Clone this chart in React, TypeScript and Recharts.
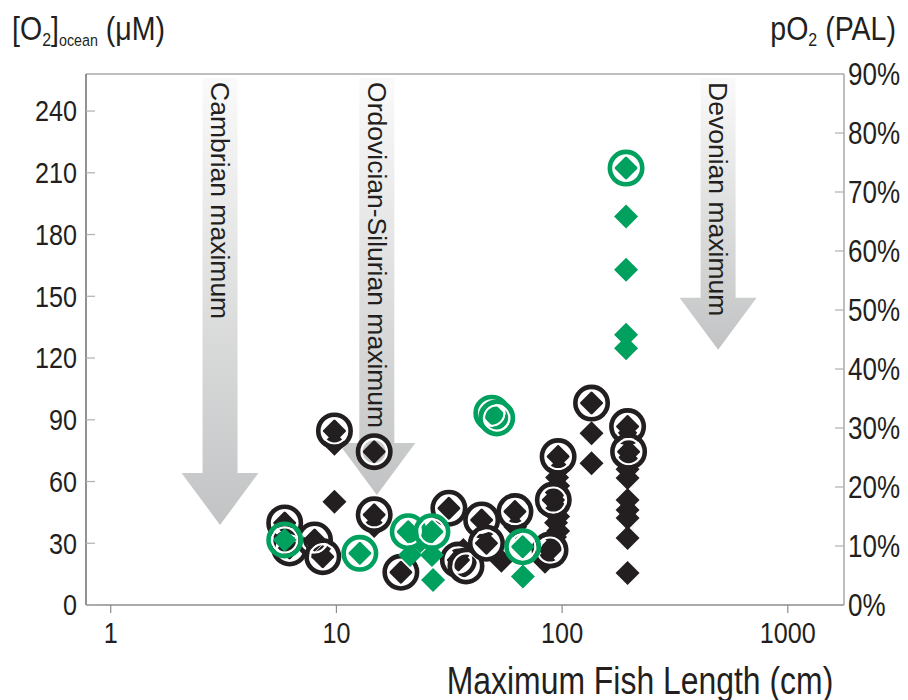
import React from "react";
import { ScatterChart, Scatter, XAxis, YAxis, ReferenceLine } from "recharts";

const X_DOMAIN = [0.777, 1774];
const Y_MAX = 258;
const X_TICKS = [1, 10, 100, 1000];
const O2_TICKS = [0, 30, 60, 90, 120, 150, 180, 210, 240];
const PAL_TICKS = [0, 0.1, 0.2, 0.3, 0.4, 0.5, 0.6, 0.7, 0.8, 0.9];

// period arrows: x = arrow position (cm), tip = O2 value at arrow head
const arrows = [
  { label: "Cambrian maximum", x: 3.05, tip: 38.9 },
  { label: "Ordovician-Silurian maximum", x: 15.1, tip: 53.5 },
  { label: "Devonian maximum", x: 491, tip: 124 },
];
const ARROW_TOP = 256;

const blackRings = [
  { x: 9.8, y: 84.6 }, { x: 14.7, y: 74.5 }, { x: 14.7, y: 43.8 },
  { x: 5.9, y: 39.9 }, { x: 6.2, y: 27.7 }, { x: 8.0, y: 31.6 },
  { x: 8.7, y: 23.5 }, { x: 19.3, y: 15.9 }, { x: 31.5, y: 47.0 },
  { x: 34.7, y: 21.9 }, { x: 37.5, y: 19.0 }, { x: 44, y: 41.3 },
  { x: 46.2, y: 30 }, { x: 61.8, y: 45.4 }, { x: 135, y: 98.1 },
  { x: 96, y: 72.1 }, { x: 91.4, y: 51 }, { x: 88.4, y: 26.7 },
  { x: 195, y: 86.7 }, { x: 197, y: 74.5 },
];

const blackDiamonds = [
  { x: 9.8, y: 84.6 }, { x: 9.8, y: 78.3 }, { x: 9.8, y: 50.2 },
  { x: 14.7, y: 74.5 }, { x: 14.7, y: 43.8 }, { x: 14.7, y: 38.4 },
  { x: 5.9, y: 39.9 }, { x: 6.2, y: 27.7 }, { x: 8.0, y: 31.6 },
  { x: 8.7, y: 23.5 }, { x: 19.3, y: 15.9 }, { x: 31.5, y: 47.0 },
  { x: 34.7, y: 21.9 }, { x: 36.5, y: 26.7 }, { x: 44, y: 41.3 },
  { x: 46.2, y: 30 }, { x: 53.8, y: 21.5 }, { x: 61.8, y: 45.4 },
  { x: 62, y: 38 }, { x: 84, y: 21 },
  { x: 135, y: 98.1 }, { x: 135, y: 83.5 }, { x: 135, y: 68.9 },
  { x: 96, y: 72.1 }, { x: 97, y: 66 }, { x: 95, y: 62 }, { x: 96, y: 58 },
  { x: 94, y: 55 }, { x: 91.4, y: 51 }, { x: 95, y: 47 }, { x: 96, y: 43 },
  { x: 94, y: 40 }, { x: 96, y: 36 }, { x: 93, y: 33 }, { x: 92, y: 29 },
  { x: 88.4, y: 26.7 },
  { x: 195, y: 86.7 }, { x: 195, y: 82.6 }, { x: 197, y: 74.5 },
  { x: 195, y: 70.5 }, { x: 195, y: 66 }, { x: 195, y: 61.7 },
  { x: 195, y: 51 }, { x: 195, y: 46.2 }, { x: 195, y: 42.3 },
  { x: 195, y: 32.6 }, { x: 195, y: 15.6 },
];

const greenRings = [
  { x: 5.9, y: 31.6 }, { x: 12.7, y: 25.1 }, { x: 20.8, y: 35.6 },
  { x: 26.5, y: 35.6 }, { x: 48.8, y: 93.2 }, { x: 51.3, y: 90.9 },
  { x: 66.9, y: 28.3 }, { x: 192, y: 212.3 },
];

const greenDiamonds = [
  { x: 5.9, y: 31.6 }, { x: 12.7, y: 25.1 }, { x: 20.8, y: 35.6 },
  { x: 26.5, y: 35.6 }, { x: 23.5, y: 31 }, { x: 21.2, y: 24.3 },
  { x: 26.5, y: 24.3 }, { x: 26.8, y: 12.2 }, { x: 48.8, y: 93.2 },
  { x: 51.3, y: 90.9 }, { x: 66.9, y: 28.3 }, { x: 67, y: 13.8 },
  { x: 192, y: 212.3 }, { x: 192, y: 188.8 }, { x: 192, y: 162.9 },
  { x: 192, y: 131.3 }, { x: 192, y: 124.8 },
];

const BLACK = "#231f20";
const GREEN = "#00a05e";
const SANS = "'Liberation Sans', Arial, Helvetica, sans-serif";
const SQUEEZE = 0.84; // the original uses a condensed Helvetica

// text squeezed horizontally around its anchor point
const Narrow = ({ x, y, size, anchor = "start", baseline, children }: any) => (
  <text
    transform={`translate(${x},${y}) scale(${SQUEEZE},1)`}
    textAnchor={anchor}
    dominantBaseline={baseline}
    fontSize={size}
    fontFamily={SANS}
    fill={BLACK}
  >
    {children}
  </text>
);

const diamond = (color: string) => (p: any) => {
  const { cx, cy } = p;
  const r = 12;
  return (
    <polygon
      points={`${cx},${cy - r} ${cx + r},${cy} ${cx},${cy + r} ${cx - r},${cy}`}
      fill={color}
    />
  );
};

const ring = (color: string) => (p: any) => {
  const { cx, cy } = p;
  return (
    <g>
      <circle cx={cx} cy={cy} r={12.6} fill="none" stroke="#fff" strokeWidth={2.2} />
      <circle cx={cx} cy={cy} r={16.2} fill="none" stroke={color} strokeWidth={4.6} />
    </g>
  );
};

const LeftTick = (p: any) => {
  const { x, y, payload } = p;
  return (
    <g>
      <line x1={x + 9} x2={x + 18} y1={y} y2={y} stroke="#b0b0b0" strokeWidth={1.2} />
      <Narrow x={x} y={y} size={30} anchor="end" baseline="central">{payload.value}</Narrow>
    </g>
  );
};

const RightTick = (p: any) => {
  const { x, y, payload } = p;
  return (
    <g>
      {payload.value > 0 && payload.value < 0.9 ? (
        <line x1={x - 13} x2={x - 4} y1={y} y2={y} stroke="#b0b0b0" strokeWidth={1.2} />
      ) : null}
      <Narrow x={x} y={y} size={31} baseline="central">{`${Math.round(payload.value * 100)}%`}</Narrow>
    </g>
  );
};

const BottomTick = (p: any) => {
  const { x, y, payload } = p;
  return (
    <Narrow x={x} y={y + 20} size={30} anchor="middle" baseline="central">{payload.value}</Narrow>
  );
};

const arrowShape = (label: string) => (p: any) => {
  const { x1, y1, y2 } = p;
  const tipY = Math.max(y1, y2);
  const topY = Math.min(y1, y2);
  const cx = x1;
  const sw = 17.5;
  const hw = 38.5;
  const hl = 52;
  const d = `M${cx - sw},${topY} L${cx + sw},${topY} L${cx + sw},${tipY - hl} L${cx + hw},${tipY - hl} L${cx},${tipY} L${cx - hw},${tipY - hl} L${cx - sw},${tipY - hl} Z`;
  return (
    <g>
      <path d={d} fill="url(#arrowGrad)" />
      <text
        transform={`translate(${cx},${topY + 4}) rotate(90)`}
        dominantBaseline="central"
        fontSize={26.5}
        fontFamily={SANS}
        fill={BLACK}
      >
        {label}
      </text>
    </g>
  );
};

export default function App() {
  return (
    <div style={{ position: "absolute", left: 0, top: 0, width: 908, height: 700, background: "#fff" }}>
      <ScatterChart
        width={908}
        height={700}
        margin={{ top: 74, right: 4, left: 6, bottom: 35 }}
      >
        <defs>
          <linearGradient id="arrowGrad" x1="0" y1="0" x2="0" y2="1">
            <stop offset="0%" stopColor="#fafafa" />
            <stop offset="100%" stopColor="#c2c3c4" />
          </linearGradient>
        </defs>
        <XAxis
          type="number"
          dataKey="x"
          scale="log"
          domain={X_DOMAIN}
          allowDataOverflow
          ticks={X_TICKS}
          height={60}
          tickSize={8}
          tickMargin={0}
          tick={BottomTick}
          axisLine={{ stroke: "#8c8c8c", strokeWidth: 1.5 }}
          tickLine={{ stroke: "#8c8c8c", strokeWidth: 1.2 }}
        />
        <YAxis
          yAxisId="left"
          type="number"
          dataKey="y"
          domain={[0, Y_MAX]}
          allowDataOverflow
          ticks={O2_TICKS}
          width={80}
          tickSize={0}
          tickMargin={9}
          tick={LeftTick}
          tickLine={false}
          axisLine={{ stroke: "#6e6e6e", strokeWidth: 1.5 }}
        />
        <YAxis
          yAxisId="right"
          orientation="right"
          type="number"
          dataKey="y"
          domain={[0, 0.9]}
          allowDataOverflow
          ticks={PAL_TICKS}
          width={60}
          tickSize={0}
          tickMargin={4}
          tick={RightTick}
          tickLine={false}
          axisLine={{ stroke: "#a8a8a8", strokeWidth: 1.5 }}
        />
        <ReferenceLine yAxisId="left" y={Y_MAX} stroke="#a8a8a8" strokeWidth={1.5} />
        {arrows.map((a) => (
          <ReferenceLine
            key={a.label}
            yAxisId="left"
            segment={[{ x: a.x, y: a.tip }, { x: a.x, y: ARROW_TOP }]}
            shape={arrowShape(a.label)}
          />
        ))}
        <Scatter yAxisId="left" data={blackDiamonds} shape={diamond(BLACK)} isAnimationActive={false} />
        <Scatter yAxisId="left" data={blackRings} shape={ring(BLACK)} isAnimationActive={false} />
        <Scatter yAxisId="left" data={greenDiamonds} shape={diamond(GREEN)} isAnimationActive={false} />
        <Scatter yAxisId="left" data={greenRings} shape={ring(GREEN)} isAnimationActive={false} />
        <Scatter yAxisId="right" data={[{ x: 1, y: 0 }]} shape={() => <g />} isAnimationActive={false} />
        <Narrow x={12} y={40} size={34}>
          [O<tspan fontSize={19} dy={6}>2</tspan>
          <tspan dy={-6}>]</tspan>
          <tspan fontSize={17} dy={6}>ocean</tspan>
          <tspan dy={-6}> (μM)</tspan>
        </Narrow>
        <Narrow x={896} y={40} size={34} anchor="end">
          pO<tspan fontSize={19} dy={6}>2</tspan>
          <tspan dy={-6}> (PAL)</tspan>
        </Narrow>
        <Narrow x={640} y={680} size={38} anchor="middle" baseline="central">
          Maximum Fish Length (cm)
        </Narrow>
      </ScatterChart>
    </div>
  );
}
